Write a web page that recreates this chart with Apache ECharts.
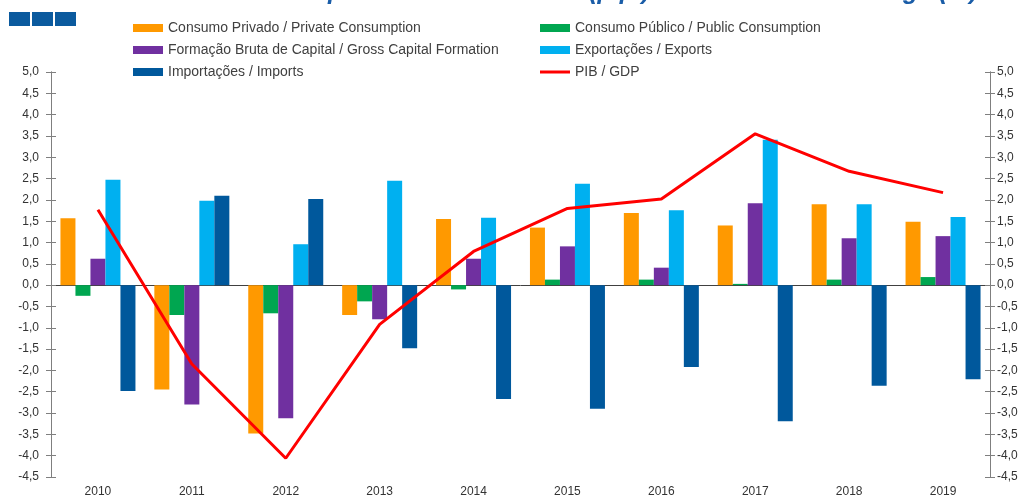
<!DOCTYPE html>
<html>
<head>
<meta charset="utf-8">
<script src="https://cdn.jsdelivr.net/npm/echarts@6/dist/echarts.min.js"></script>
<style>
  html, body { margin: 0; padding: 0; background: #fff; }
  #chart { width: 1027px; height: 498px; }
</style>
</head>
<body>
<div id="chart"></div>
<script>
    'use strict';
    var years = ['2010', '2011', '2012', '2013', '2014', '2015', '2016', '2017', '2018', '2019'];
    var privateCons = [1.57, -2.45, -3.48, -0.70, 1.55, 1.35, 1.69, 1.40, 1.90, 1.49];
    var publicCons = [-0.25, -0.70, -0.66, -0.38, -0.10, 0.13, 0.13, 0.03, 0.13, 0.19];
    var capitalForm = [0.62, -2.80, -3.12, -0.80, 0.62, 0.91, 0.41, 1.92, 1.10, 1.15];
    var exportsC = [2.47, 1.98, 0.96, 2.45, 1.58, 2.38, 1.76, 3.41, 1.90, 1.60];
    var importsC = [-2.48, 2.10, 2.02, -1.48, -2.67, -2.90, -1.92, -3.19, -2.36, -2.21];
    var gdp = [1.77, -1.85, -4.06, -0.92, 0.79, 1.80, 2.02, 3.55, 2.67, 2.17];

    var names = {
        priv : 'Consumo Privado / Private Consumption',
        pub : 'Consumo Público / Public Consumption',
        fbc : 'Formação Bruta de Capital / Gross Capital Formation',
        exp : 'Exportações / Exports',
        imp : 'Importações / Imports',
        gdp : 'PIB / GDP'
    };

    var font = 'Liberation Sans, Arial, sans-serif';
    var fmt = function(v) { return v.toFixed(1).replace('.', ','); };

    var yBase = { type : 'value', min : -4.5, max : 5, interval : 0.5, splitLine : { show : false } };
    function yAxis(pos, inside, labels) {
        return Object.assign({}, yBase, {
            position : pos,
            axisLine : { show : true, lineStyle : { color : '#7f7f7f', width : 1 } },
            axisTick : { show : true, inside : inside, length : 5, lineStyle : { color : '#7f7f7f' } },
            axisLabel : {
                show : labels, formatter : fmt, margin : pos === 'left' ? 12 : 7,
                color : '#333', fontSize : 12, fontFamily : font
            }
        });
    }

    function bar(name, data, color) {
        return { name : name, type : 'bar', data : data, barWidth : 15, barGap : '0%',
                 itemStyle : { color : color } };
    }

    // three legend blocks: the red line needs a thinner icon than the bars
    var legendBase = {
        orient : 'vertical', top : 21, padding : 0, itemGap : 8,
        itemWidth : 30, itemHeight : 8, icon : 'rect',
        textStyle : { fontSize : 14, fontFamily : font, color : '#404040' }
    };

    var chart = echarts.init(document.getElementById('chart'));
    chart.setOption({
        backgroundColor : '#fff',
        animation : false,
        graphic : [
            { type : 'rect', shape : { x : 9, y : 12, width : 21, height : 14 }, style : { fill : '#0b5a9e' } },
            { type : 'rect', shape : { x : 32, y : 12, width : 21, height : 14 }, style : { fill : '#0b5a9e' } },
            { type : 'rect', shape : { x : 55, y : 12, width : 21, height : 14 }, style : { fill : '#0b5a9e' } },
            { type : 'text', left : 110, top : -20, style : {
                text : 'Contributos / Components Contribution (p.p.) to GDP Annual Change (%)',
                fill : '#1a5da8', font : 'italic bold 25px ' + font } }
        ],
        legend : [
            Object.assign({}, legendBase, { left : 133, data : [names.priv, names.fbc, names.imp] }),
            Object.assign({}, legendBase, { left : 540, data : [names.pub, names.exp] }),
            Object.assign({}, legendBase, { left : 540, top : 65, itemHeight : 3, data : [names.gdp] })
        ],
        grid : { left : 51, right : 37, top : 72, bottom : 21 },
        xAxis : [
            {
                type : 'category', data : years, position : 'bottom',
                axisLine : { show : false, onZero : false }, axisTick : { show : false },
                axisLabel : { margin : 9, color : '#333', fontSize : 12, fontFamily : font }
            },
            {
                type : 'category', data : years, position : 'bottom',
                axisLine : { onZero : true, lineStyle : { color : '#404040', width : 1 } },
                axisTick : { length : 4, lineStyle : { color : '#404040' } },
                axisLabel : { show : false }
            }
        ],
        yAxis : [
            yAxis('left', false, true),
            yAxis('right', false, true),
            yAxis('left', true, false),
            yAxis('right', true, false)
        ],
        series : [
            bar(names.priv, privateCons, '#ff9900'),
            bar(names.pub, publicCons, '#00a650'),
            bar(names.fbc, capitalForm, '#7030a0'),
            bar(names.exp, exportsC, '#00b0f0'),
            bar(names.imp, importsC, '#00589c'),
            {
                name : names.gdp, type : 'line', data : gdp, symbol : 'none', z : 5,
                lineStyle : { color : '#ff0000', width : 3 }, itemStyle : { color : '#ff0000' }
            }
        ]
    });
</script>
</body>
</html>
